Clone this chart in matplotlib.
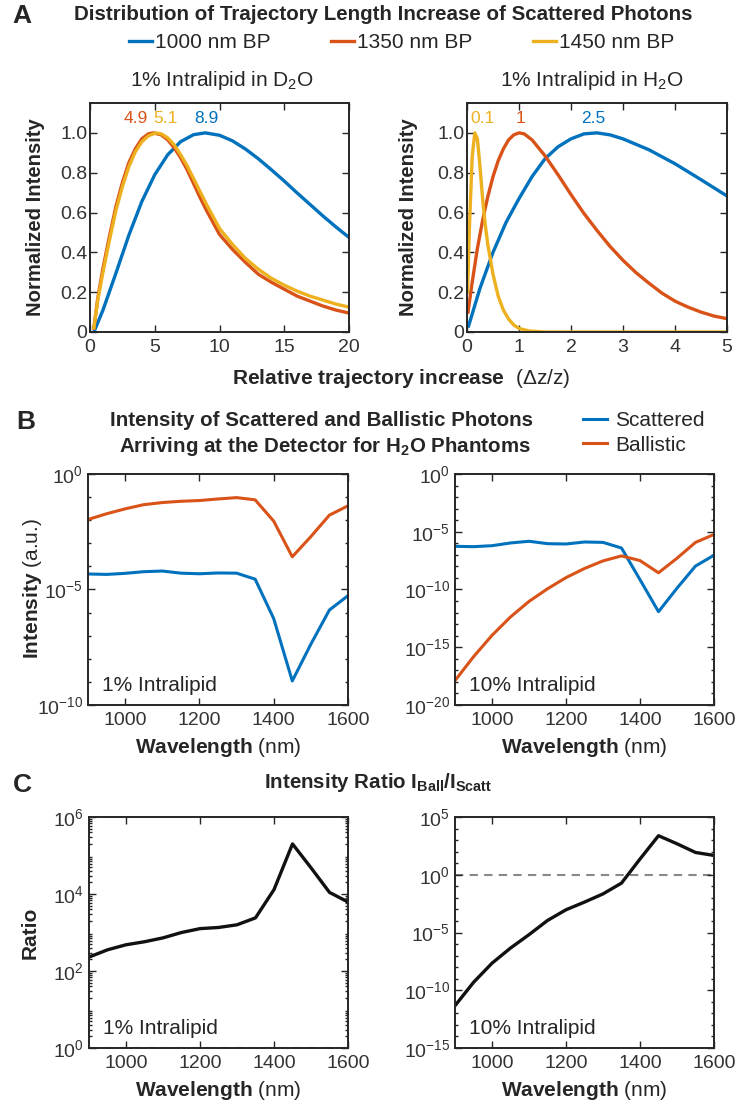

import numpy as np
import matplotlib
matplotlib.use("Agg")
import matplotlib.pyplot as plt
from matplotlib.ticker import FixedLocator, FuncFormatter, NullFormatter

plt.rcParams["font.family"] = ["Liberation Sans", "DejaVu Sans"]
plt.rcParams["mathtext.fontset"] = "custom"
plt.rcParams["mathtext.rm"] = "Liberation Sans"
plt.rcParams["mathtext.bf"] = "Liberation Sans:bold"
plt.rcParams["mathtext.it"] = "Liberation Sans:italic"

W, H = 738, 1105
BLUE, ORANGE, YELLOW = "#0072BD", "#D95319", "#EDB120"
INK = "#262626"
FS = 15

# --- A: trajectory length increase, 1% intralipid in D2O ----------------
d2o_x_1000 = [0.3, 1, 2, 3, 4, 5, 6, 7, 8, 8.9, 10, 11, 12, 13, 14, 15, 16, 17, 18, 19, 20]
d2o_y_1000 = [0.0, 0.11, 0.295, 0.486, 0.655, 0.79, 0.89, 0.956, 0.991, 1.0, 0.988, 0.96,
              0.919, 0.87, 0.815, 0.758, 0.698, 0.64, 0.582, 0.527, 0.475]
d2o_x_1350 = [0.3, 0.6, 1, 1.5, 2, 2.5, 3, 3.5, 4, 4.5, 4.9, 5.5, 6, 6.5, 7, 7.5, 8, 8.5, 9,
              10, 11, 12, 13, 14, 15, 16, 17, 18, 19, 20]
d2o_y_1350 = [0.02, 0.17, 0.32, 0.48, 0.63, 0.75, 0.85, 0.92, 0.97, 0.995, 1.0, 0.99, 0.965,
              0.925, 0.875, 0.815, 0.745, 0.675, 0.61, 0.49, 0.415, 0.35, 0.29, 0.25, 0.215,
              0.18, 0.155, 0.13, 0.11, 0.095]
d2o_x_1450 = [0.3, 0.6, 1, 1.5, 2, 2.5, 3, 3.5, 4, 4.5, 5.1, 5.5, 6, 6.5, 7, 7.5, 8, 8.5, 9,
              10, 11, 12, 13, 14, 15, 16, 17, 18, 19, 20]
d2o_y_1450 = [0.02, 0.16, 0.30, 0.46, 0.61, 0.73, 0.83, 0.905, 0.955, 0.985, 1.0, 0.995, 0.975,
              0.94, 0.89, 0.835, 0.77, 0.705, 0.64, 0.52, 0.44, 0.37, 0.315, 0.27, 0.235,
              0.205, 0.18, 0.16, 0.14, 0.125]
d2o_peaks = ["4.9", "5.1", "8.9"]          # orange, yellow, blue

# --- A: 1% intralipid in H2O ---------------------------------------------
h2o_x_1000 = [0.03, 0.25, 0.5, 0.75, 1, 1.25, 1.5, 1.75, 2, 2.25, 2.5, 2.75, 3, 3.5, 4, 4.5, 5]
h2o_y_1000 = [0.03, 0.22, 0.40, 0.55, 0.67, 0.78, 0.87, 0.93, 0.97, 0.995, 1.0, 0.99,
              0.97, 0.915, 0.845, 0.765, 0.683]
h2o_x_1350 = [0.02, 0.1, 0.2, 0.3, 0.4, 0.5, 0.6, 0.7, 0.8, 0.9, 1.0, 1.1, 1.25, 1.5, 1.75, 2,
              2.25, 2.5, 2.75, 3, 3.25, 3.5, 3.75, 4, 4.25, 4.5, 4.75, 5]
h2o_y_1350 = [0.10, 0.25, 0.42, 0.56, 0.68, 0.78, 0.86, 0.92, 0.965, 0.99, 1.0, 0.995, 0.965,
              0.885, 0.79, 0.69, 0.595, 0.51, 0.43, 0.36, 0.298, 0.245, 0.195, 0.155, 0.125,
              0.10, 0.08, 0.067]
h2o_x_1450 = [0.01, 0.05, 0.1, 0.15, 0.2, 0.25, 0.3, 0.35, 0.4, 0.5, 0.6, 0.7, 0.8, 0.9, 1.0,
              1.2, 1.5, 5]
h2o_y_1450 = [0.20, 0.55, 0.88, 1.0, 0.97, 0.83, 0.67, 0.54, 0.44, 0.29, 0.18, 0.11, 0.065,
              0.035, 0.018, 0.005, 0.0, 0.0]
h2o_peaks = ["0.1", "1", "2.5"]            # yellow, orange, blue

# --- B / C: wavelength scans ---------------------------------------------
wl = [900, 950, 1000, 1050, 1100, 1150, 1200, 1250, 1300, 1350, 1400, 1450, 1500, 1550, 1600]
scat_1pct = [4.7e-5, 4.5e-5, 5.0e-5, 5.9e-5, 6.3e-5, 5.1e-5, 4.8e-5, 5.2e-5, 5.1e-5, 2.8e-5,
             5.5e-7, 1.1e-9, 4.3e-8, 1.3e-6, 5.4e-6]
ball_1pct = [1.07e-2, 1.9e-2, 3.1e-2, 4.7e-2, 5.8e-2, 6.6e-2, 7.1e-2, 8.3e-2, 9.5e-2, 7.6e-2,
             9.1e-3, 2.6e-4, 1.95e-3, 1.66e-2, 4.2e-2]
scat_10pct = [5.5e-7, 5.1e-7, 6.2e-7, 1.07e-6, 1.5e-6, 9.3e-7, 8.7e-7, 1.3e-6, 1.2e-6, 3.9e-7,
              7.1e-10, 1.2e-12, 1.3e-10, 1.07e-8, 9.3e-8]
ball_10pct = [1.3e-18, 1.5e-16, 1.07e-14, 4.2e-13, 9.3e-12, 1.15e-10, 1.07e-9, 6.6e-9, 3.0e-8,
              8.1e-8, 3.2e-8, 2.8e-9, 5.1e-8, 1.2e-6, 5.8e-6]
ratio_1pct = [230, 355, 480, 575, 725, 1000, 1260, 1350, 1585, 2400, 1.3e4, 2.0e5, 4.8e4,
              1.1e4, 6.2e3]
ratio_10pct = [4.6e-12, 4.8e-10, 2.2e-8, 4.5e-7, 6.5e-6, 1.1e-4, 9.3e-4, 4.3e-3, 2.2e-2, 0.19,
               23, 2400, 480, 85, 47]


def box(l, t, r, b):
    """axes rectangle from pixel edges of the original"""
    return [l / W, 1 - b / H, (r - l) / W, (b - t) / H]


def fx(x):
    return x / W


def fy(y):
    return 1 - y / H


def style(ax, ypad=3.5):
    for s in ax.spines.values():
        s.set_color(INK)
        s.set_linewidth(1.4)
    ax.tick_params(which="both", direction="in", top=True, right=True, colors=INK,
                   labelcolor="#333333", labelsize=14, width=1.0)
    ax.tick_params(which="major", length=5)
    ax.tick_params(which="minor", length=2.5)
    ax.tick_params(axis="x", pad=5)
    ax.tick_params(axis="y", pad=ypad)


def logy(ax, lo, hi, step, minor_subs=False):
    ax.set_yscale("log")
    ax.set_ylim(10.0 ** lo, 10.0 ** hi)
    ax.yaxis.set_major_locator(FixedLocator(10.0 ** np.arange(lo, hi + 1, step)))
    ax.yaxis.set_major_formatter(FuncFormatter(lambda v, p: r"$10^{%d}$" % round(np.log10(v))))
    if minor_subs:
        mins = [s * 10.0 ** e for e in range(lo, hi) for s in range(2, 10)]
    else:
        mins = 10.0 ** np.arange(lo, hi + 1)
    ax.yaxis.set_minor_locator(FixedLocator(mins))
    ax.yaxis.set_minor_formatter(NullFormatter())


fig = plt.figure(figsize=(W / 100, H / 100), dpi=100)

# ---------------- panel A ----------------
axA1 = fig.add_axes(box(90, 103, 349, 332))
axA2 = fig.add_axes(box(467, 103, 727, 332))
lw = 2.4
hA = []
for ax, xs, ys, peaks, lab_x, lab_c in (
        (axA1, (d2o_x_1000, d2o_x_1350, d2o_x_1450), (d2o_y_1000, d2o_y_1350, d2o_y_1450),
         d2o_peaks, (3.55, 5.8, 8.95), (ORANGE, YELLOW, BLUE)),
        (axA2, (h2o_x_1000, h2o_x_1350, h2o_x_1450), (h2o_y_1000, h2o_y_1350, h2o_y_1450),
         h2o_peaks, (0.29, 1.02, 2.42), (YELLOW, ORANGE, BLUE))):
    l1, = ax.plot(xs[0], ys[0], color=BLUE, lw=lw)
    l2, = ax.plot(xs[1], ys[1], color=ORANGE, lw=lw)
    l3, = ax.plot(xs[2], ys[2], color=YELLOW, lw=lw)
    hA = [l1, l2, l3]
    for txt, px, c in zip(peaks, lab_x, lab_c):
        ax.text(px, 1.07, txt, color=c, fontsize=12.5, ha="center", va="center")
    ax.set_ylim(0, 1.15)
    ax.set_yticks([0, 0.2, 0.4, 0.6, 0.8, 1.0])
    ax.set_yticklabels(["0", "0.2", "0.4", "0.6", "0.8", "1.0"])
    style(ax, ypad=2)
axA1.set_xlim(0, 20)
axA1.set_xticks([0, 5, 10, 15, 20])
axA2.set_xlim(0, 5)
axA2.set_xticks([0, 1, 2, 3, 4, 5])

fig.text(fx(22), fy(16), "A", fontsize=19, fontweight="bold", color=INK, ha="center", va="center")
fig.text(fx(383), fy(15), "Distribution of Trajectory Length Increase of Scattered Photons",
         fontsize=14.8, fontweight="bold", color=INK, ha="center", va="center")
fig.legend(hA, ["1000 nm BP", "1350 nm BP", "1450 nm BP"], ncol=3, frameon=False,
           loc="center", bbox_to_anchor=(fx(402), fy(43)), fontsize=FS, handlelength=1.1,
           handletextpad=0.15, columnspacing=2.9, borderpad=0, labelcolor=INK)
fig.text(fx(222), fy(81), "1% Intralipid in D$_2$O", fontsize=FS, color=INK, ha="center", va="center")
fig.text(fx(592), fy(81), "1% Intralipid in H$_2$O", fontsize=FS, color=INK, ha="center", va="center")
for xp in (36, 408):
    fig.text(fx(xp), fy(217), "Normalized Intensity", rotation=90, fontsize=14.6,
             fontweight="bold", color=INK, ha="center", va="center")
fig.text(fx(401), fy(378), r"$\mathbf{Relative\ trajectory\ increase}$  ($\Delta$z/z)",
         fontsize=FS, color=INK, ha="center", va="center")

# ---------------- panel B ----------------
axB1 = fig.add_axes(box(88, 474, 348, 705))
axB2 = fig.add_axes(box(455, 474, 714, 705))
lwB = 2.2
hB1, = axB1.plot(wl, scat_1pct, color=BLUE, lw=lwB)
hB2, = axB1.plot(wl, ball_1pct, color=ORANGE, lw=lwB)
axB2.plot(wl, scat_10pct, color=BLUE, lw=lwB)
axB2.plot(wl, ball_10pct, color=ORANGE, lw=lwB)
logy(axB1, -10, 0, 5)
logy(axB2, -20, 0, 5)

fig.text(fx(26), fy(422), "B", fontsize=19, fontweight="bold", color=INK, ha="center", va="center")
fig.text(fx(322), fy(420), "Intensity of Scattered and Ballistic Photons",
         fontsize=14.8, fontweight="bold", color=INK, ha="center", va="center")
fig.text(fx(325), fy(446), r"Arriving at the Detector for H$_{\mathbf{2}}$O Phantoms",
         fontsize=14.8, fontweight="bold", color=INK, ha="center", va="center")
fig.legend([hB1, hB2], ["Scattered", "Ballistic"], frameon=False, loc="center left",
           bbox_to_anchor=(fx(583), fy(433)), fontsize=FS, handlelength=1.15,
           handletextpad=0.4, labelspacing=0.25, borderpad=0, borderaxespad=0, labelcolor=INK)
fig.text(fx(32), fy(588), r"$\mathbf{Intensity}$ (a.u.)", rotation=90, fontsize=FS,
         color=INK, ha="center", va="center")

# ---------------- panel C ----------------
axC1 = fig.add_axes(box(89, 817, 348, 1048))
axC2 = fig.add_axes(box(455, 817, 714, 1048))
lwC = 2.4
axC1.plot(wl, ratio_1pct, color="#111111", lw=lwC)
axC2.plot(wl, ratio_10pct, color="#111111", lw=lwC)
for ax in (axC1, axC2):
    ax.axhline(1.0, color="#888888", lw=1.5, ls=(0, (4, 3)), zorder=1)
logy(axC1, 0, 6, 2, minor_subs=True)
logy(axC2, -15, 5, 5)

fig.text(fx(22), fy(785), "C", fontsize=19, fontweight="bold", color=INK, ha="center", va="center")
fig.text(fx(378), fy(783), r"Intensity Ratio I$_{\mathbf{Ball}}$/I$_{\mathbf{Scatt}}$",
         fontsize=14.8, fontweight="bold", color=INK, ha="center", va="center")
fig.text(fx(30), fy(933), "Ratio", rotation=90, fontsize=FS, fontweight="bold",
         color=INK, ha="center", va="center")

for ax, lab in ((axB1, "1% Intralipid"), (axB2, "10% Intralipid"),
                (axC1, "1% Intralipid"), (axC2, "10% Intralipid")):
    ax.set_xlim(900, 1600)
    ax.set_xticks([1000, 1200, 1400, 1600])
    ax.set_xlabel(r"$\mathbf{Wavelength}$ (nm)", fontsize=FS, color=INK)
    ax.xaxis.set_label_coords(0.5, -0.186)
    ax.xaxis.label.set_va("center")
    ax.text(0.055, 0.085, lab, transform=ax.transAxes, fontsize=FS, color=INK,
            ha="left", va="center")
    style(ax)

fig.savefig("out.png", dpi=100)
